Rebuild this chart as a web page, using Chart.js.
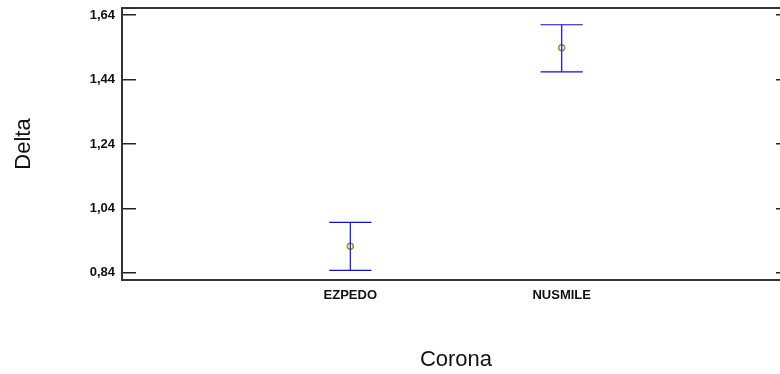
<!DOCTYPE html>
<html>
<head>
<meta charset="utf-8">
<script src="https://cdn.jsdelivr.net/npm/chart.js@4.4.1/dist/chart.umd.min.js"></script>
<style>
	html, body { margin: 0; padding: 0; overflow: hidden; background: #fff; }
	#wrap { position: absolute; left: 0; top: 0; width: 800px; height: 374px; }
</style>
</head>
<body>
<div id="wrap"><canvas id="means-chart"></canvas></div>
<script>
// data
var categories = ["EZPEDO", "NUSMILE"];
var means = [0.923, 1.539];
var lower = [0.848, 1.464];
var upper = [0.997, 1.610];
var yTicks = [0.84, 1.04, 1.24, 1.44, 1.64];

Chart.defaults.font.family = "'Liberation Sans', Arial, sans-serif";
Chart.defaults.color = "#111";

var capHalf = 0.1;
var frame = "#333";

// build the interval lines (one dataset per segment)
var datasets = [];
for (var i = 0; i < categories.length; i++) {
	var x = i + 1;
	var segs = [
		[{x: x, y: lower[i]}, {x: x, y: upper[i]}],
		[{x: x - capHalf, y: upper[i]}, {x: x + capHalf, y: upper[i]}],
		[{x: x - capHalf, y: lower[i]}, {x: x + capHalf, y: lower[i]}]
	];
	for (var s = 0; s < segs.length; s++) {
		datasets.push({
			data: segs[s],
			showLine: true,
			borderColor: "#0a0aff",
			borderWidth: 1.2,
			pointRadius: 0
		});
	}
}
datasets.push({
	data: means.map(function(m, i) { return {x: i + 1, y: m}; }),
	showLine: false,
	pointRadius: 3,
	pointBorderWidth: 1.5,
	pointBorderColor: "#9a9a10",
	pointBackgroundColor: "rgba(0,0,0,0)"
});

function setYTicks(scale) {
	scale.ticks = yTicks.map(function(v) { return {value: v}; });
}

var ctx = document.getElementById("means-chart");
var chart = new Chart(ctx, {
	type: "scatter",
	data: { datasets: datasets },
	options: {
		responsive: true,
		maintainAspectRatio: false,
		animation: false,
		devicePixelRatio: 1,
		layout: { padding: 0 },
		plugins: {
			legend: { display: false },
			tooltip: { enabled: false }
		},
		scales: {
			x: {
				type: "linear",
				position: "bottom",
				min: -0.08,
				max: 3.08,
				afterBuildTicks: function(scale) {
					scale.ticks = categories.map(function(c, i) { return {value: i + 1}; });
				},
				afterFit: function(scale) {
					scale.height = 94;
					scale.paddingLeft = 0;
					scale.paddingRight = 0;
				},
				ticks: {
					autoSkip: false,
					maxRotation: 0,
					padding: 8,
					font: { size: 13, weight: "bold" },
					color: "#111",
					callback: function(v) { return categories[v - 1]; }
				},
				grid: { display: false, drawTicks: false },
				border: { display: true, color: frame, width: 2 },
				title: {
					display: true,
					text: "Corona",
					font: { size: 22 },
					color: "#111",
					padding: { top: 0, bottom: 1 }
				}
			},
			x2: {
				type: "linear",
				position: "top",
				min: -0.08,
				max: 3.08,
				afterFit: function(scale) { scale.height = 8; },
				ticks: { display: false },
				grid: { display: false, drawTicks: false },
				border: { display: true, color: frame, width: 2 }
			},
			y: {
				type: "linear",
				position: "left",
				min: 0.818,
				max: 1.662,
				afterBuildTicks: setYTicks,
				afterFit: function(scale) {
					scale.width = 122;
					scale.paddingTop = 0;
					scale.paddingBottom = 0;
				},
				ticks: {
					padding: 21,
					font: { size: 13, weight: "bold" },
					color: "#111",
					callback: function(v) { return v.toFixed(2).replace(".", ","); }
				},
				grid: {
					display: true,
					drawOnChartArea: false,
					drawTicks: true,
					tickLength: -14,
					color: "#222",
					lineWidth: 1.5
				},
				border: { display: true, color: frame, width: 2 },
				title: {
					display: true,
					text: "Delta",
					font: { size: 22 },
					color: "#111",
					padding: { top: 11, bottom: 0 }
				}
			},
			y2: {
				type: "linear",
				position: "right",
				min: 0.818,
				max: 1.662,
				afterBuildTicks: setYTicks,
				afterFit: function(scale) {
					scale.width = 10;
					scale.paddingTop = 0;
					scale.paddingBottom = 0;
				},
				ticks: { display: false },
				grid: {
					display: true,
					drawOnChartArea: false,
					drawTicks: true,
					tickLength: -14,
					color: "#222",
					lineWidth: 1.5
				},
				border: { display: true, color: frame, width: 2 }
			}
		}
	}
});
</script>
</body>
</html>
